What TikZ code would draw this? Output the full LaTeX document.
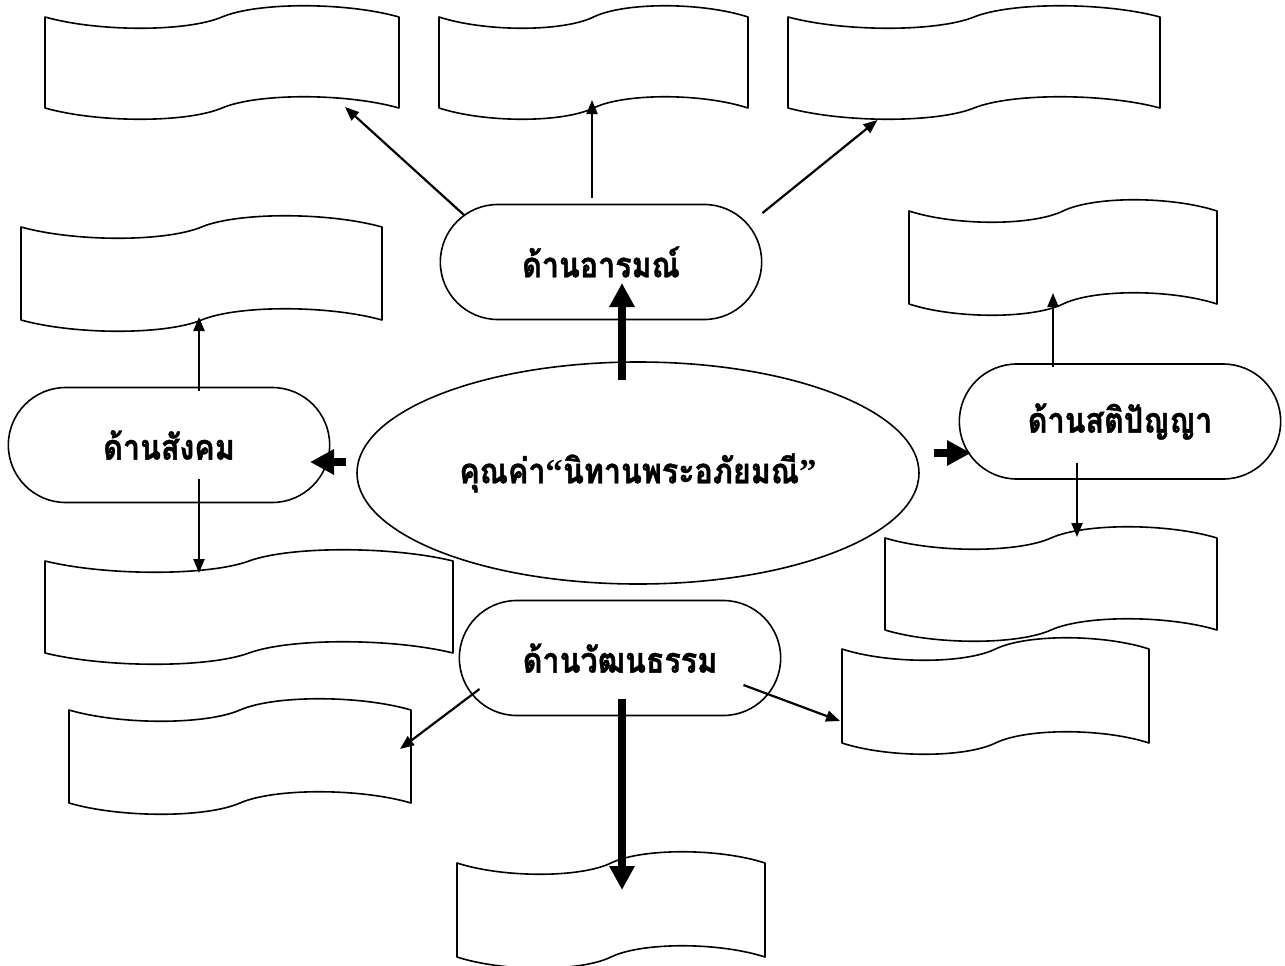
\documentclass[tikz,border=0pt]{standalone}
\usepackage{fontspec}
\newfontfamily\thaifont[Script=Thai, FakeStretch=0.87, BoldFeatures={FakeBold=1.2}]{Loma}
\newfontfamily\quotefont{Liberation Serif}
\usepackage{tikz}
\usetikzlibrary{arrows.meta,shapes.geometric,shapes.misc}

% wave shaped box: name, left, top, right, bottom
\newcommand{\wavebox}[5]{%
  \pgfmathsetmacro{\ww}{#4-#2}%
  \pgfmathsetmacro{\hh}{#5-#3}%
  \begin{scope}[shift={(#2,#3)}]
    \draw[wave] (0,0) .. controls (0.15*\ww,15) and (0.4*\ww,15) .. (0.5*\ww,0)
      .. controls (0.6*\ww,-15) and (0.85*\ww,-15) .. (\ww,0) -- (\ww,\hh)
      .. controls (0.85*\ww,\hh-15) and (0.6*\ww,\hh-15) .. (0.5*\ww,\hh)
      .. controls (0.4*\ww,\hh+15) and (0.15*\ww,\hh+15) .. (0,\hh) -- cycle;
    \coordinate (#1) at (0.5*\ww,0.5*\hh);
  \end{scope}}

\tikzset{
  side/.style={rounded rectangle, draw, line width=1.6pt, minimum width=328pt,
    minimum height=115pt, font=\thaifont\bfseries\fontsize{35}{40}\selectfont},
  core/.style={ellipse, draw, line width=1.6pt, minimum width=562pt,
    minimum height=222pt, font=\thaifont\bfseries\fontsize{35}{40}\selectfont},
  wave/.style={line width=1.6pt, line join=round},
  spoke/.style={line width=2.2pt, -{Triangle[length=14pt,width=11pt]}},
  fatspoke/.style={line width=8.5pt, -{Triangle[length=24pt,width=24pt]}},
}

\begin{document}
\begin{tikzpicture}[x=1pt,y=-1pt]
    \useasboundingbox (0,0) rectangle (1285,966);
    % Draw the empty wave boxes
    \wavebox{b1}{45}{17}{399}{108}
    \wavebox{b2}{439}{17}{748}{108}
    \wavebox{b3}{788}{17}{1160}{108}
    \wavebox{b4}{21}{227}{382}{320}
    \wavebox{b5}{909}{211}{1217}{304}
    \wavebox{b6}{45}{561}{453}{653}
    \wavebox{b7}{885}{538}{1217}{630}
    \wavebox{b8}{842}{649}{1149}{743}
    \wavebox{b9}{69}{710}{411}{803}
    \wavebox{b10}{457}{863}{765}{957}
    % Draw the centre and the four sides
    \node[core] (value) at (638,473) {คุณค่า{\quotefont\bfseries “}นิทานพระอภัยมณี{\quotefont\bfseries ”}};
    \node[side] (emo) at (601,262) {ด้านอารมณ์};
    \node[side] (soc) at (169,445) {ด้านสังคม};
    \node[side] (intel) at (1120,421.5) {ด้านสติปัญญา};
    \node[side] (cult) at (620,658) {ด้านวัฒนธรรม};
    % Thick arrows out of the centre
    \draw[fatspoke] ([shift={(-16,19)}]value.north) -- ([shift={(21,21)}]emo.center);
    \draw[fatspoke] ([shift={(-10,-11)}]value.west) -- ([shift={(141,17)}]soc.center);
    \draw[fatspoke] ([shift={(14,-20)}]value.east) -- ([shift={(-149,31.5)}]intel.center);
    \draw[fatspoke] ([shift={(2,41)}]cult.center) -- ([shift={(11,-20)}]b10);
    % Thin arrows to the boxes
    \draw[spoke] (emo.161) -- ([shift={(123,44.5)}]b1);
    \draw[spoke] ([shift={(-9,-6)}]emo.north) -- ([shift={(-1.5,37.5)}]b2);
    \draw[spoke] ([shift={(0,-49)}]emo.east) -- ([shift={(-96.5,57.5)}]b3);
    \draw[spoke] ([shift={(30,4)}]soc.north) -- ([shift={(-2.5,43.5)}]b4);
    \draw[spoke] ([shift={(30,-24)}]soc.south) -- ([shift={(-50,-34)}]b6);
    \draw[spoke] ([shift={(-67,4)}]intel.north) -- ([shift={(-10,35.5)}]b5);
    \draw[spoke] ([shift={(-43,-17)}]intel.south) -- ([shift={(26,-47)}]b7);
    \draw[spoke] ([shift={(21,31)}]cult.west) -- ([shift={(160,-7.5)}]b9);
    \draw[spoke] ([shift={(-38,27)}]cult.east) -- ([shift={(-155.5,25)}]b8);
\end{tikzpicture}
\end{document}
